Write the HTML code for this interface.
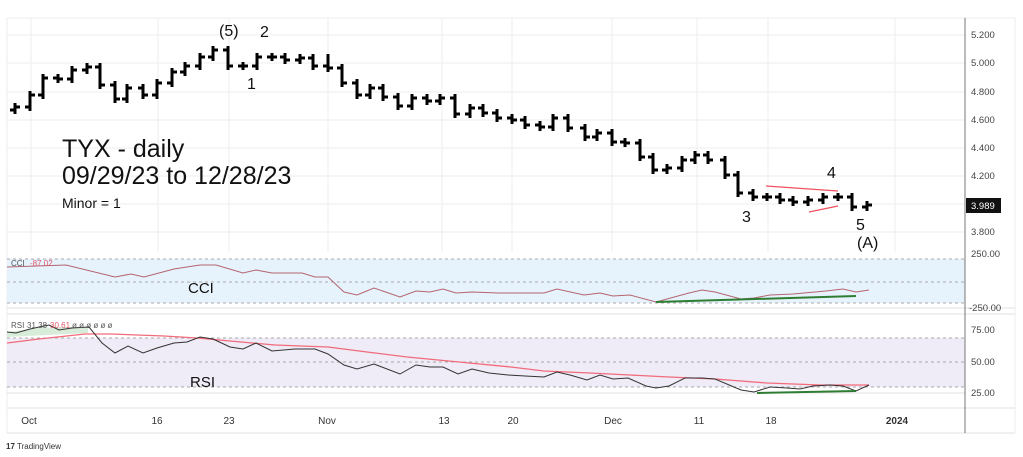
<!DOCTYPE html>
<html><head><meta charset="utf-8">
<style>
html,body{margin:0;padding:0;background:#fff;}
svg{display:block;font-family:"Liberation Sans",sans-serif;}
</style></head>
<body>
<svg width="1023" height="457" viewBox="0 0 1023 457" xmlns="http://www.w3.org/2000/svg">
<rect width="1023" height="457" fill="#fff"/>
<g stroke="#eeeef0" stroke-width="1">
<line x1="7" y1="18" x2="1015" y2="18"/>
<line x1="7" y1="35" x2="965" y2="35"/><line x1="7" y1="63" x2="965" y2="63"/>
<line x1="7" y1="92" x2="965" y2="92"/><line x1="7" y1="120" x2="965" y2="120"/>
<line x1="7" y1="148" x2="965" y2="148"/><line x1="7" y1="176" x2="965" y2="176"/>
<line x1="7" y1="204" x2="965" y2="204"/><line x1="7" y1="232" x2="965" y2="232"/>
<line x1="31" y1="18" x2="31" y2="252"/><line x1="158" y1="18" x2="158" y2="252"/>
<line x1="229" y1="18" x2="229" y2="252"/><line x1="328" y1="18" x2="328" y2="252"/>
<line x1="442" y1="18" x2="442" y2="252"/><line x1="512" y1="18" x2="512" y2="252"/>
<line x1="612" y1="18" x2="612" y2="252"/><line x1="697" y1="18" x2="697" y2="252"/>
<line x1="768" y1="18" x2="768" y2="252"/><line x1="895" y1="18" x2="895" y2="252"/>
<line x1="7" y1="18" x2="7" y2="433"/><line x1="1015" y1="18" x2="1015" y2="433"/>
</g>
<rect x="7" y="259" width="958" height="44" fill="#e6f3fd"/>
<rect x="7" y="338" width="958" height="49" fill="#efebf7"/>
<g stroke="#aaa" stroke-dasharray="3,3" stroke-width="1">
<line x1="7" y1="259" x2="965" y2="259"/><line x1="7" y1="282" x2="965" y2="282"/><line x1="7" y1="303" x2="965" y2="303"/>
<line x1="7" y1="338" x2="965" y2="338"/><line x1="7" y1="362" x2="965" y2="362"/><line x1="7" y1="387" x2="965" y2="387"/>
</g>
<g stroke="#e0e0e3" stroke-width="1">
<line x1="7" y1="308" x2="1015" y2="308"/><line x1="7" y1="314" x2="1015" y2="314"/>
<line x1="7" y1="393" x2="965" y2="393"/>
<line x1="7" y1="408" x2="1015" y2="408"/><line x1="7" y1="433" x2="1015" y2="433"/>
</g>
<line x1="965" y1="18" x2="965" y2="433" stroke="#777" stroke-width="1"/>
<polyline fill="none" stroke="#b5646e" stroke-width="1" points="7,267 66,265 115,277 131,274 144,277 174,269 200,265 216,265 243,273 256,270 272,273 302,273 315,277 328,277 344,292 357,295 374,288 400,297 416,291 430,292 443,289 456,293 472,292 498,293 544,293 557,289 584,295 600,293 613,296 630,295 656,302 689,293 702,290 715,292 741,299 754,298 770,295 793,294 826,291 843,289 856,292 869,290"/>
<line x1="656" y1="302" x2="856" y2="296" stroke="#2e7d32" stroke-width="2"/>
<polygon points="7,332 30,329 40,326 50,328 70,327 88,327 88,333 7,337" fill="#c8e6c9" opacity="0.7"/>
<polyline fill="none" stroke="#f26b7a" stroke-width="1.3" points="7,343 39,339 85,334 111,334 164,336 197,338 230,341 275,345 328,347 367,352 407,357 459,362 511,367 544,371 590,373 630,375 669,377 715,379 767,383 820,385 869,385"/>
<polyline fill="none" stroke="#333" stroke-width="1" points="7,332 16,333 30,329 39,327 49,325 59,330 72,328 89,327 102,343 115,353 128,346 143,353 157,348 174,343 187,342 200,337 213,339 230,347 243,349 256,343 272,351 295,349 315,349 328,354 344,365 357,369 374,364 400,374 416,365 430,367 443,367 458,374 472,369 489,373 508,375 525,376 544,377 557,372 570,375 587,380 600,375 613,379 628,378 646,386 656,388 669,386 685,378 702,378 715,379 741,390 754,392 770,387 787,388 800,389 813,386 830,385 843,386 856,391 869,385"/>
<line x1="757" y1="393" x2="856" y2="391" stroke="#2e7d32" stroke-width="2"/>
<text x="11" y="266" font-size="8" fill="#555">CCI</text><text x="30" y="266" font-size="8" fill="#e05a6a">-87.02</text>
<text x="11" y="328" font-size="8" fill="#555">RSI</text><text x="27" y="328" font-size="8" fill="#555">31.38</text><text x="50" y="328" font-size="8" fill="#e05a6a">30.61</text><text x="72" y="328" font-size="8" fill="#555">ø ø ø ø ø ø</text>
<text x="188" y="293" font-size="15" fill="#111">CCI</text>
<text x="190" y="387" font-size="15" fill="#111">RSI</text>
<g font-size="9.5" fill="#444">
<text x="971" y="38">5.200</text><text x="971" y="66">5.000</text><text x="971" y="95">4.800</text>
<text x="971" y="123">4.600</text><text x="971" y="151">4.400</text><text x="971" y="179">4.200</text>
<text x="971" y="235">3.800</text>
<text x="971" y="257">250.00</text><text x="969" y="311">-250.00</text>
<text x="971" y="333">75.00</text><text x="971" y="365">50.00</text><text x="971" y="396">25.00</text>
</g>
<rect x="966" y="198" width="35" height="15" fill="#111"/>
<text x="971" y="209" font-size="9.5" fill="#fff">3.989</text>
<g font-size="10" fill="#333" text-anchor="middle">
<text x="29" y="424">Oct</text><text x="157" y="424">16</text><text x="229" y="424">23</text>
<text x="327" y="424">Nov</text><text x="444" y="424">13</text><text x="513" y="424">20</text>
<text x="613" y="424">Dec</text><text x="699" y="424">11</text><text x="771" y="424">18</text>
<text x="897" y="424" font-weight="bold">2024</text>
</g>
<text x="6" y="449" font-size="8" fill="#333"><tspan font-weight="bold">17</tspan> TradingView</text>
<g stroke="#000" stroke-width="3" fill="none">
<path d="M15 103V114M10 110H15M15 107H20"/>
<path d="M30 91V111M25 107H30M30 95H35"/>
<path d="M43 74V99M38 95H43M43 78H48"/>
<path d="M58 74V83M53 78H58M58 79H63"/>
<path d="M72 66V83M67 79H72M72 70H77"/>
<path d="M87 63V74M82 70H87M87 67H92"/>
<path d="M100 63V89M95 67H100M100 85H105"/>
<path d="M115 81V103M110 85H115M115 99H120"/>
<path d="M127 84V103M122 99H127M127 88H132"/>
<path d="M143 84V99M138 88H143M143 95H148"/>
<path d="M157 79V99M152 95H157M157 83H162"/>
<path d="M172 68V87M167 83H172M172 72H177"/>
<path d="M185 62V76M180 72H185M185 66H190"/>
<path d="M200 53V70M195 66H200M200 57H205"/>
<path d="M213 46V61M208 57H213M213 50H218"/>
<path d="M228 46V70M223 50H228M228 66H233"/>
<path d="M243 62V70M238 66H243M243 66H248"/>
<path d="M257 53V70M252 66H257M257 57H262"/>
<path d="M272 53V61M267 57H272M272 57H277"/>
<path d="M285 53V64M280 57H285M285 60H290"/>
<path d="M300 54V64M295 60H300M300 58H305"/>
<path d="M313 54V70M308 58H313M313 66H318"/>
<path d="M328 54V72M323 66H328M328 68H333"/>
<path d="M342 64V87M337 68H342M342 83H347"/>
<path d="M357 79V99M352 83H357M357 95H362"/>
<path d="M370 84V99M365 95H370M370 88H375"/>
<path d="M383 84V101M378 88H383M383 97H388"/>
<path d="M398 93V110M393 97H398M398 106H403"/>
<path d="M412 94V110M407 106H412M412 98H417"/>
<path d="M427 94V105M422 98H427M427 101H432"/>
<path d="M440 94V105M435 101H440M440 98H445"/>
<path d="M455 94V118M450 98H455M455 114H460"/>
<path d="M470 104V118M465 114H470M470 108H475"/>
<path d="M483 104V117M478 108H483M483 113H488"/>
<path d="M497 109V122M492 113H497M497 118H502"/>
<path d="M512 114V124M507 118H512M512 120H517"/>
<path d="M525 116V129M520 120H525M525 125H530"/>
<path d="M540 121V131M535 125H540M540 127H545"/>
<path d="M553 114V131M548 127H553M553 118H558"/>
<path d="M568 114V132M563 118H568M568 128H573"/>
<path d="M585 124V141M580 128H585M585 137H590"/>
<path d="M597 129V141M592 137H597M597 133H602"/>
<path d="M612 129V146M607 133H612M612 142H617"/>
<path d="M625 138V147M620 142H625M625 143H630"/>
<path d="M640 139V161M635 143H640M640 157H645"/>
<path d="M653 153V174M648 157H653M653 170H658"/>
<path d="M667 164V174M662 170H667M667 168H672"/>
<path d="M682 156V172M677 168H682M682 160H687"/>
<path d="M695 151V164M690 160H695M695 155H700"/>
<path d="M708 151V164M703 155H708M708 160H713"/>
<path d="M725 156V179M720 160H725M725 175H730"/>
<path d="M738 171V197M733 175H738M738 193H743"/>
<path d="M753 189V201M748 193H753M753 197H758"/>
<path d="M767 193V201M762 197H767M767 197H772"/>
<path d="M780 193V204M775 197H780M780 200H785"/>
<path d="M793 196V206M788 200H793M793 202H798"/>
<path d="M808 196V206M803 202H808M808 200H813"/>
<path d="M823 193V204M818 200H823M823 197H828"/>
<path d="M838 193V201M833 197H838M838 197H843"/>
<path d="M852 193V211M847 197H852M852 207H857"/>
<path d="M867 201V211M862 207H867M867 205H872"/>
</g>
<line x1="766" y1="186" x2="838" y2="191" stroke="#f0505f" stroke-width="1.3"/>
<line x1="809" y1="212" x2="838" y2="206" stroke="#f0505f" stroke-width="1.3"/>
<g font-size="16" fill="#111">
<text x="219" y="36">(5)</text><text x="260" y="37">2</text><text x="247" y="89">1</text>
<text x="742" y="222">3</text><text x="827" y="178">4</text><text x="856" y="230">5</text><text x="857" y="248">(A)</text>
</g>
<text x="62" y="157" font-size="25" fill="#111">TYX - daily</text>
<text x="62" y="184" font-size="25" fill="#111">09/29/23 to 12/28/23</text>
<text x="62" y="208" font-size="14" fill="#111">Minor = 1</text>
</svg>
</body></html>
